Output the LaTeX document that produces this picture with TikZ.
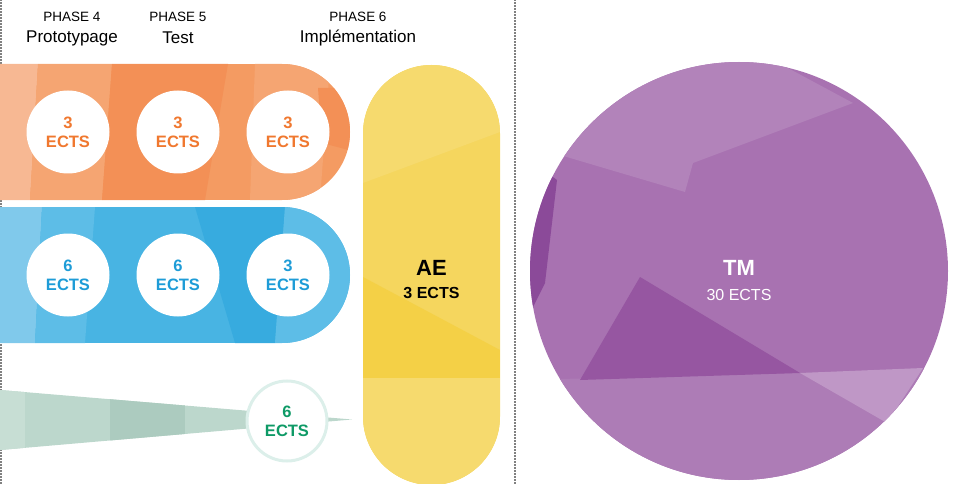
\documentclass[tikz,border=0pt]{standalone}
\usepackage{fontspec}
\setmainfont{Liberation Sans}
\definecolor{orbase}{HTML}{F49B62}
\definecolor{orlight}{HTML}{F7B893}
\definecolor{ormid}{HTML}{F5A572}
\definecolor{ordark}{HTML}{F39056}
\definecolor{ortext}{HTML}{F0782F}
\definecolor{blbase}{HTML}{48B4E3}
\definecolor{bllight}{HTML}{80C9EB}
\definecolor{blmid}{HTML}{5DBDE7}
\definecolor{bldark}{HTML}{37ABDF}
\definecolor{bltext}{HTML}{1E9CD7}
\definecolor{grbase}{HTML}{BCD7CC}
\definecolor{grdark}{HTML}{ACCBBF}
\definecolor{grlight}{HTML}{C7DED4}
\definecolor{grring}{HTML}{DCEFEA}
\definecolor{grtext}{HTML}{0E9A66}
\definecolor{yebase}{HTML}{F5D65E}
\definecolor{yelight}{HTML}{F6DA6E}
\definecolor{yedark}{HTML}{F4D046}
\definecolor{pubase}{HTML}{A872B1}
\definecolor{pulight}{HTML}{B283BA}
\definecolor{pudark}{HTML}{9656A1}
\definecolor{pudeep}{HTML}{8B4A99}
\definecolor{pupale}{HTML}{BF97C6}
\definecolor{pubot}{HTML}{AD7CB6}
\tikzset{
  ects/.style={circle,fill=white,minimum size=83pt,inner sep=0pt,align=center,
    font=\fontsize{16.5}{19}\selectfont\bfseries},
  phase/.style={font=\fontsize{13.5}{15}\selectfont},
  pname/.style={font=\fontsize{17}{19}\selectfont},
  sep/.style={dash pattern=on 0pt off 3pt,line cap=round,line width=1.6pt,black}
}
\begin{document}
\begin{tikzpicture}[x=1pt,y=1pt]
\useasboundingbox (0,0) rectangle (962,483);
% separators
\draw[sep] (1,0) -- (1,483);
\draw[sep] (515,0) -- (515,483);
% headers
\node[phase] (h4) at (72,466) {PHASE 4};
\node[pname] (n4) at (72,445) {Prototypage};
\node[phase] (h5) at (178,466) {PHASE 5};
\node[pname] (n5) at (178,445) {Test};
\node[phase] (h6) at (358,466) {PHASE 6};
\node[pname] (n6) at (358,445) {Implémentation};
% orange bar
\begin{scope}
\clip (0,419) -- (282,419) arc[start angle=90,end angle=-90,radius=68] -- (0,283) -- cycle;
\fill[orbase] (0,283) rectangle (360,419);
\fill[orlight] (0,283) -- (0,419) -- (38,419) -- (30,283) -- cycle;
\fill[ormid] (38,419) -- (112,419) -- (102,283) -- (30,283) -- cycle;
\fill[ordark] (112,419) -- (228,419) -- (205,283) -- (102,283) -- cycle;
\fill[ormid] (255,419) -- (330,419) -- (320,283) -- (250,283) -- cycle;
\fill[ordark] (318,395) -- (360,395) -- (360,330) -- (322,340) -- cycle;
\end{scope}
% blue bar
\begin{scope}
\clip (0,276) -- (282,276) arc[start angle=90,end angle=-90,radius=68] -- (0,140) -- cycle;
\fill[blbase] (0,140) rectangle (360,276);
\fill[bllight] (0,140) -- (0,276) -- (42,276) -- (35,140) -- cycle;
\fill[blmid] (42,276) -- (95,276) -- (85,140) -- (35,140) -- cycle;
\fill[bldark] (195,276) -- (285,276) -- (275,140) -- (235,140) -- cycle;
\fill[blmid] (285,276) -- (360,276) -- (360,140) -- (275,140) -- cycle;
\end{scope}
% green wedge
\begin{scope}
\clip (0,93) -- (352,63.5) -- (0,33) -- cycle;
\fill[grbase] (0,30) rectangle (360,96);
\fill[grdark] (110,30) -- (110,96) -- (185,96) -- (185,30) -- cycle;
\fill[grlight] (0,30) rectangle (25,96);
\end{scope}
% yellow pill
\begin{scope}
\clip (363,349.5) arc[start angle=180,end angle=0,radius=68.5] -- (500,66.5) arc[start angle=0,end angle=-180,radius=68.5] -- cycle;
\fill[yebase] (360,-5) rectangle (505,420);
\fill[yelight] (363,420) -- (363,300) -- (500,351) -- (500,420) -- cycle;
\fill[yedark] (363,206) -- (500,133) -- (500,105) -- (363,105) -- cycle;
\fill[yelight] (363,105) -- (500,105) -- (500,-5) -- (363,-5) -- cycle;
\end{scope}
% purple circle
\begin{scope}
\clip (739,212) circle[radius=209];
\fill[pubase] (520,0) rectangle (960,430);
\fill[pulight] (560,328) -- (685,291) -- (693,320) -- (853,380) -- (760,430) -- (560,430) -- cycle;
\fill[pudeep] (520,330) -- (557,303) -- (545,200) -- (520,150) -- cycle;
\fill[pubot] (520,0) -- (520,103) -- (800,110) -- (960,115) -- (960,0) -- cycle;
\fill[pudark] (640,206) -- (800,110) -- (580,103) -- cycle;
\fill[pupale] (800,110) -- (923,115) -- (887,60) -- cycle;
\end{scope}
% circles
\node[ects,text=ortext] (o1) at (68,351) {3\\ECTS};
\node[ects,text=ortext] (o2) at (178,351) {3\\ECTS};
\node[ects,text=ortext] (o3) at (288,351) {3\\ECTS};
\node[ects,text=bltext] (b1) at (68,208) {6\\ECTS};
\node[ects,text=bltext] (b2) at (178,208) {6\\ECTS};
\node[ects,text=bltext] (b3) at (288,208) {3\\ECTS};
\node[ects,text=grtext,draw=grring,line width=3pt,minimum size=80pt] (g1) at (287,62) {6\\ECTS};
% AE
\node[font=\fontsize{22}{24}\selectfont\bfseries] (ae) at (431.5,215) {AE};
\node[font=\fontsize{16}{18}\selectfont\bfseries] (aee) at (431.5,190) {3 ECTS};
% TM
\node[font=\fontsize{22}{24}\selectfont\bfseries,text=white] (tm) at (739,215) {TM};
\node[font=\fontsize{16}{18}\selectfont,text=white] (tme) at (739,188) {30 ECTS};
\end{tikzpicture}
\end{document}
